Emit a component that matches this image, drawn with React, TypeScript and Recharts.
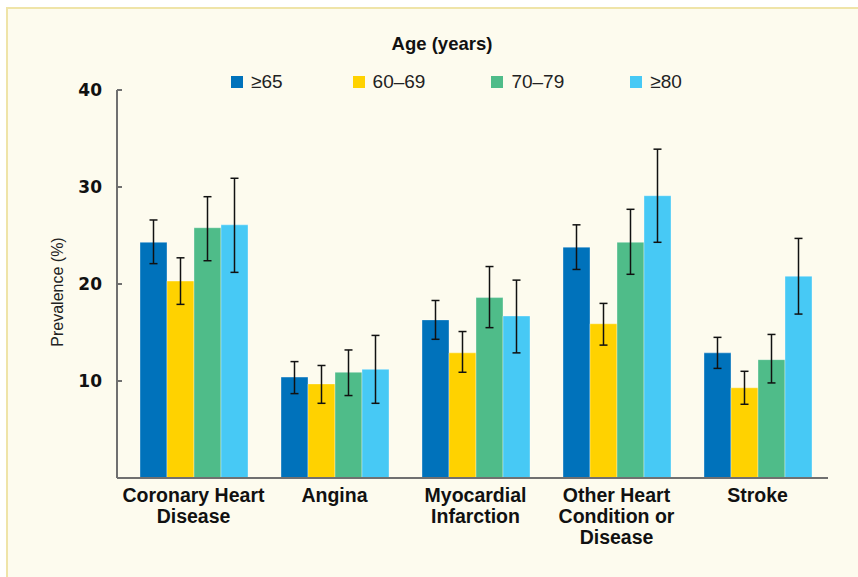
import React from 'react';
import { BarChart, Bar, ErrorBar, XAxis, YAxis } from 'recharts';

/* ─── Data ─────────────────────────────────────────────────────────────────── */
const categories = [
    'Coronary Heart\nDisease',
    'Angina',
    'Myocardial\nInfarction',
    'Other Heart\nCondition or\nDisease',
    'Stroke',
];

const seriesNames = ['≥65', '60–69', '70–79', '≥80'];

const age65 = [24.3, 10.4, 16.3, 23.8, 12.9];
const age60to69 = [20.3, 9.7, 12.9, 15.9, 9.3];
const age70to79 = [25.8, 10.9, 18.6, 24.3, 12.2];
const age80 = [26.1, 11.2, 16.7, 29.1, 20.8];

// confidence interval bounds (lower / upper)
const age65Low = [22.1, 8.7, 14.3, 21.5, 11.3];
const age65High = [26.6, 12.0, 18.3, 26.1, 14.5];
const age60to69Low = [17.9, 7.7, 10.9, 13.7, 7.6];
const age60to69High = [22.7, 11.6, 15.1, 18.0, 11.0];
const age70to79Low = [22.4, 8.5, 15.5, 21.0, 9.8];
const age70to79High = [29.0, 13.2, 21.8, 27.7, 14.8];
const age80Low = [21.2, 7.7, 12.9, 24.3, 16.9];
const age80High = [30.9, 14.7, 20.4, 33.9, 24.7];

const yTicks = [10, 20, 30, 40];

const COLORS = ['#0072bb', '#ffd200', '#4fbc89', '#47c9f5'];

const seriesValues = [age65, age60to69, age70to79, age80];
const seriesLow = [age65Low, age60to69Low, age70to79Low, age80Low];
const seriesHigh = [age65High, age60to69High, age70to79High, age80High];

const data = categories.map((name, i) => {
    const row: Record<string, unknown> = { name };
    seriesValues.forEach((vals, s) => {
        row[`s${s}`] = vals[i];
        row[`e${s}`] = [vals[i] - seriesLow[s][i], seriesHigh[s][i] - vals[i]];
    });
    return row;
});

const FONT = "'Liberation Sans', Arial, sans-serif";

/* ─── Ticks / legend ───────────────────────────────────────────────────────── */
const CategoryTick = (props: any) => {
    const { x, y, payload } = props;
    const lines = String(payload.value).split('\n');
    return (
        <text x={x} y={y + 16} textAnchor="middle" fill="#111" fontFamily={FONT} fontWeight="bold" fontSize={19.5}>
            {lines.map((l, i) => (
                <tspan key={i} x={x} dy={i === 0 ? 0 : 21}>
                    {l}
                </tspan>
            ))}
        </text>
    );
};

function AgeLegend() {
    return (
        <div
            style={{
                position: 'absolute',
                left: 231,
                top: 71,
                height: 22,
                display: 'flex',
                alignItems: 'center',
                fontFamily: FONT,
                fontSize: 19,
                color: '#222',
            }}
        >
            {seriesNames.map((n, i) => (
                <div key={n} style={{ display: 'flex', alignItems: 'center', marginRight: i === 0 ? 70 : 66 }}>
                    <span style={{ width: 12, height: 12, background: COLORS[i], display: 'inline-block', marginRight: 8 }} />
                    <span>{n}</span>
                </div>
            ))}
        </div>
    );
}

export default function App() {
    return (
        <div style={{ position: 'fixed', left: 0, top: 0, width: 858, height: 577, background: '#fff', overflow: 'hidden' }}>
            <div
                style={{
                    position: 'absolute',
                    left: 6,
                    top: 7,
                    right: -10,
                    bottom: -10,
                    background: '#fdfbee',
                    borderTop: '2px solid #efe4a8',
                    borderLeft: '2px solid #efe4a8',
                }}
            />
            <div
                style={{
                    position: 'absolute',
                    left: 0,
                    top: 33,
                    width: 884,
                    textAlign: 'center',
                    fontFamily: FONT,
                    fontWeight: 'bold',
                    fontSize: 18.5,
                    color: '#111',
                }}
            >
                Age (years)
            </div>
            <AgeLegend />
            <div style={{ position: 'absolute', left: 0, top: 0 }}>
                <BarChart
                    width={858}
                    height={577}
                    data={data}
                    margin={{ top: 90, right: 30, bottom: 69, left: 60 }}
                    barSize={27}
                    barGap={0}
                >
                    <XAxis
                        dataKey="name"
                        height={30}
                        tick={<CategoryTick />}
                        tickLine={false}
                        axisLine={{ stroke: '#707070', strokeWidth: 2 }}
                        padding={{ left: 6, right: 0 }}
                        interval={0}
                    />
                    <YAxis
                        width={57}
                        domain={[0, 40]}
                        ticks={yTicks}
                        tickSize={-5}
                        tickMargin={20}
                        axisLine={{ stroke: '#707070', strokeWidth: 2 }}
                        tickLine={{ stroke: '#707070', strokeWidth: 2 }}
                        tick={{ fill: '#111', fontSize: 17, fontWeight: 'bold', fontFamily: "'DejaVu Sans', sans-serif" }}
                        label={{
                            value: 'Prevalence (%)',
                            angle: -90,
                            position: 'insideLeft',
                            offset: -3,
                            dy: 8,
                            style: { fill: '#222', fontSize: 16, fontFamily: FONT, textAnchor: 'middle' },
                        }}
                    />
                    {seriesNames.map((n, s) => (
                        <Bar
                            key={n}
                            dataKey={`s${s}`}
                            name={n}
                            fill={COLORS[s]}
                            stroke="rgba(255,255,255,0.35)"
                            strokeWidth={1}
                            isAnimationActive={false}
                        >
                            <ErrorBar dataKey={`e${s}`} width={4} stroke="#111" strokeWidth={1.5} direction="y" />
                        </Bar>
                    ))}
                </BarChart>
            </div>
        </div>
    );
}
